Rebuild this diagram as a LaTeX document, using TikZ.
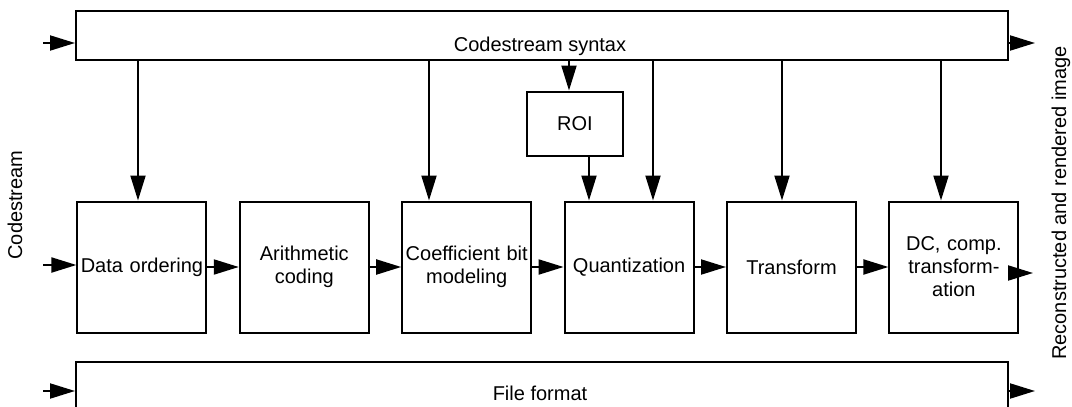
\documentclass[tikz,border=0pt]{standalone}
\usepackage{fontspec}
\setmainfont{Liberation Sans}
\usetikzlibrary{arrows.meta,positioning}

\begin{document}
\begin{tikzpicture}[x=0.5pt, y=-0.5pt,
      font=\fontsize{10}{11.5}\selectfont,
      block/.style ={rectangle, draw=black, line width=1pt, fill=white,
        text width=62pt, align=center,
        minimum width=64.5pt, minimum height=65.5pt, inner sep=1pt},
      block_roi/.style ={rectangle, draw=black, line width=1pt, fill=white,
        minimum width=48pt, minimum height=32pt},
      block_bar/.style ={rectangle, draw=black, line width=1pt, fill=white,
        minimum width=466pt, inner sep=0pt},
      line/.style ={draw, line width=1pt,
        -{Triangle[length=12.5pt,width=7.5pt]}}]
    \clip (0,0) rectangle (1072,407);
    %
    % 1. the two wide bars and the ROI box
    \node [block_bar, minimum height=24.5pt] (syntax) at (542,35.5) {};
    \node [anchor=base] (syntax_txt) at (540,51) {Codestream syntax};
    \node [block_bar, minimum height=80pt, anchor=north] (fformat) at (542,361) {};
    \node [anchor=base] (fformat_txt) at (540,400) {File format};
    \node [block_roi] (roi) at (575,123.5) {ROI};
    %
    % 2. the decoder chain, one block per column
    \matrix [matrix anchor=west, column sep=15.7pt, inner sep=0pt] at (76,267) {
      \node [block] (dord) {Data ordering};
      & \node [block] (arith) {Arithmetic\\coding};
      & \node [block] (coef) {Coefficient bit\\modeling};
      & \node [block] (quant) {Quantization};
      & \node [block] (trans) {Transform};
      & \node [block] (dc) {DC, comp.\\transform-\\ation}; \\
    };% end matrix
    %
    % side labels
    \node [rotate=90] (cs_in) at (15,205) {Codestream};
    \node [rotate=90] (img_out) at (1061,203) {Reconstructed and rendered image};
    %
    % free ends of the in/out arrows and taps on the syntax bar
    \coordinate (in1) at (43,43);
    \coordinate (in2) at (43,265);
    \coordinate (in3) at (43,391);
    \coordinate (out1) at (1035,43);
    \coordinate (out2) at (1033,273);
    \coordinate (out3) at (1035,391);
    \coordinate (tap1) at (138,60);
    \coordinate (tap2) at (429,60);
    \coordinate (tap3) at (569,60);
    \coordinate (tap4) at (653,60);
    \coordinate (tap5) at (782,60);
    \coordinate (tap6) at (941,60);
    %
    % 3. connecting nodes with paths
    \begin{scope}[every path/.style=line]
      % inputs and outputs
      \path (in1) -- (in1 -| syntax.west);
      \path (in2) -- (in2 -| dord.west);
      \path (in3) -- (in3 -| fformat.west);
      \path (out1 -| syntax.east) -- (out1);
      \path (out2 -| dc.east) -- (out2);
      \path (out3 -| fformat.east) -- (out3);
      % along the chain
      \path (dord) -- (arith);
      \path (arith) -- (coef);
      \path (coef) -- (quant);
      \path (quant) -- (trans);
      \path (trans) -- (dc);
      % from the syntax bar
      \path (tap1) -- (tap1 |- dord.north);
      \path (tap2) -- (tap2 |- coef.north);
      \path (tap3) -- (tap3 |- roi.north);
      \path (tap4) -- (tap4 |- quant.north);
      \path (tap5) -- (tap5 |- trans.north);
      \path (tap6) -- (tap6 |- dc.north);
      \path ([xshift=7pt]roi.south) -- ([xshift=7pt]roi.south |- quant.north);
    \end{scope}
\end{tikzpicture}
\end{document}
